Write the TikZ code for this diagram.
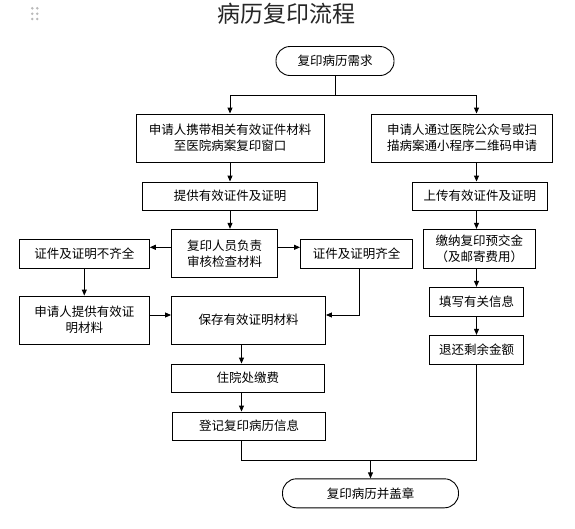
\documentclass[tikz,border=0pt]{standalone}
\usepackage{fontspec}
\setmainfont{Noto Sans CJK SC}
\usetikzlibrary{arrows.meta}

\begin{document}
\begin{tikzpicture}[x=1pt, y=-1pt,
  box/.style={draw, line width=0.9pt, fill=white, align=center, inner sep=2pt, font=\fontsize{12.5}{16}\selectfont},
  term/.style={box, rounded corners=14pt},
  arr/.style={-{Triangle[length=6pt,width=5pt]}, line width=0.9pt},
  ln/.style={line width=0.9pt}]
  \useasboundingbox (0,0) rectangle (575,528);

  %--- title ---
  \node[font=\fontsize{23}{28}\selectfont, text=black!85] (title) at (286,14) {病历复印流程};
  \foreach \gx in {32.3,37.3}
    \foreach \gy in {8.3,13.7,19}
      \fill[gray!55] (\gx,\gy) circle (1.4pt);

  %--- start ---
  \node[term, minimum width=118pt, minimum height=29pt] (start) at (335,61) {复印病历需求};

  %--- left branch ---
  \node[box, minimum width=188pt, minimum height=48pt] (applyL) at (230,138) {申请人携带相关有效证件材料\\至医院病案复印窗口};
  \node[box, minimum width=175pt, minimum height=28pt] (provide) at (230,196) {提供有效证件及证明};
  \node[box, minimum width=106pt, minimum height=48pt] (review) at (224.5,253.3) {复印人员负责\\审核检查材料};
  \node[box, minimum width=130pt, minimum height=29pt] (incomplete) at (84.3,253.7) {证件及证明不齐全};
  \node[box, minimum width=112pt, minimum height=29pt] (complete) at (356.5,253.7) {证件及证明齐全};
  \node[box, minimum width=130pt, minimum height=48pt] (supplement) at (84.3,320) {申请人提供有效证\\明材料};
  \node[box, minimum width=154pt, minimum height=48pt] (keep) at (248.5,320) {保存有效证明材料};
  \node[box, minimum width=153pt, minimum height=28pt] (pay) at (247.8,378) {住院处缴费};
  \node[box, minimum width=153pt, minimum height=28pt] (register) at (249,426) {登记复印病历信息};

  %--- right branch ---
  \node[box, minimum width=181pt, minimum height=48pt] (applyR) at (462,138) {申请人通过医院公众号或扫\\描病案通小程序二维码申请};
  \node[box, minimum width=135pt, minimum height=28pt] (upload) at (479.8,196) {上传有效证件及证明};
  \node[box, minimum width=112pt, minimum height=39pt] (deposit) at (479.3,248.8) {缴纳复印预交金\\（及邮寄费用）};
  \node[box, minimum width=94pt, minimum height=29pt] (fillin) at (476.5,301.8) {填写有关信息};
  \node[box, minimum width=94pt, minimum height=29pt] (refund) at (476.5,349.8) {退还剩余金额};

  %--- end ---
  \node[term, minimum width=176pt, minimum height=29pt] (finish) at (370.5,493.3) {复印病历并盖章};

  %--- connectors ---
  \coordinate (split) at (start.south |- 0,95.3);
  \coordinate (merge) at (finish.north |- 0,460.3);
  \draw[ln] (start.south) -- (split);
  \draw[arr] (split) -| (applyL.north);
  \draw[arr] (split) -| (applyR.north -| refund.north);

  \draw[arr] (applyL) -- (provide);
  \draw[arr] (provide.south) -- (provide.south |- review.north);
  \draw[arr] ([yshift=6pt]review.west) -- ([yshift=6pt]review.west -| incomplete.east);
  \draw[arr] ([yshift=6pt]review.east) -- ([yshift=6pt]review.east -| complete.west);
  \draw[arr] (incomplete) -- (supplement);
  \draw[arr] ([yshift=5pt]supplement.east) -- ([yshift=5pt]keep.west);
  \draw[arr] ([xshift=3pt]complete.south) |- ([yshift=5pt]keep.east);
  \draw[arr] ([xshift=-7pt]keep.south) -- ([xshift=-7pt]keep.south |- pay.north);
  \draw[arr] ([xshift=-7pt]keep.south |- pay.south) -- ([xshift=-7pt]keep.south |- register.north);
  \draw[ln] ([xshift=-7pt]keep.south |- register.south) |- (merge);

  \draw[arr] (applyR.south -| refund.north) -- (upload.north -| refund.north);
  \draw[arr] (upload.south -| refund.north) -- (deposit.north -| refund.north);
  \draw[arr] (deposit.south -| refund.north) -- (fillin.north);
  \draw[arr] (fillin) -- (refund);
  \draw[ln] (refund.south) |- (merge);
  \draw[arr] (merge) -- (finish.north);
\end{tikzpicture}
\end{document}
